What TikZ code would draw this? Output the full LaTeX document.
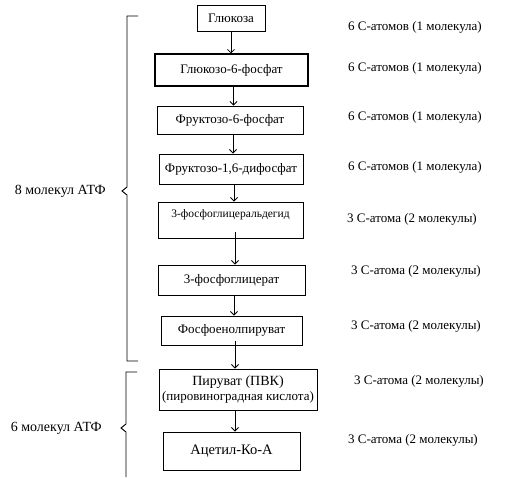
\documentclass[tikz,border=0pt]{standalone}
\usepackage{fontspec}
\setmainfont{Liberation Serif}
\usepackage{tikz}
\usetikzlibrary{positioning,arrows.meta,calc}
\tikzset{
  arr/.style={-{Straight Barb[length=3.5pt,width=7pt]}, line width=0.8pt},
  stage/.style={draw, line width=0.9pt, align=center, inner sep=1pt,
                font=\fontsize{13}{15}\selectfont},
  note/.style={anchor=west, inner sep=0pt, font=\fontsize{13}{15}\selectfont},
  brace/.style={line width=0.9pt},
}
\begin{document}
\begin{tikzpicture}[x=1pt,y=-1pt]
  \useasboundingbox (0,0) rectangle (511,477);

  % glycolysis chain
  \node[stage, minimum width=68, minimum height=26] (glc) at (231,18) {Глюкоза};
  \node[stage, line width=1.15pt, minimum width=153, minimum height=32] (g6p) at (231.5,70) {Глюкозо-6-фосфат};
  \node[stage, minimum width=146, minimum height=28] (f6p) at (230,120) {Фруктозо-6-фосфат};
  \node[stage, minimum width=144, minimum height=30] (f16) at (231,169) {Фруктозо-1,6-дифосфат};
  \node[stage, minimum width=145, minimum height=36, font=\fontsize{11.5}{14}\selectfont] (gap) at (230.5,220)
        {3-фосфоглицеральдегид\\[-1pt] \mbox{}};
  \node[stage, minimum width=147, minimum height=30] (pg3) at (231.5,280) {3-фосфоглицерат};
  \node[stage, minimum width=141, minimum height=29] (pep) at (231.5,330.5) {Фосфоенолпируват};
  \node[stage, minimum width=158, minimum height=41] (pyr) at (238,389.5)
        {{\fontsize{14}{15}\selectfont Пируват (ПВК)}\\(пировиноградная кислота)};
  \node[stage, minimum width=137, minimum height=38, font=\fontsize{14.5}{16}\selectfont] (acc) at (231.5,451) {Ацетил-Ко-А};

  \draw[arr] (glc.south) -- (glc.south |- g6p.north);
  \draw[arr] ([xshift=2pt]g6p.south) -- ([xshift=2pt]g6p.south |- f6p.north);
  \draw[arr] ([xshift=3pt]f6p.south) -- ([xshift=3pt]f6p.south |- f16.north);
  \draw[arr] ([xshift=3pt]f16.south) -- ([xshift=3pt]f16.south |- gap.north);
  \draw[arr] ([xshift=4.5pt,yshift=6pt]gap.south) -- ([xshift=4.5pt]gap.south |- pg3.north);
  \draw[arr] ([xshift=2.5pt]pg3.south) -- ([xshift=2.5pt]pg3.south |- pep.north);
  \draw[arr] ([xshift=3.5pt,yshift=4pt]pep.south) -- ([xshift=3.5pt]pep.south |- pyr.north);
  \draw[arr] ([xshift=-3pt]pyr.south) -- ([xshift=-3pt]pyr.south |- acc.north);

  % carbon atoms per stage
  \node[note] (n1) at (348,27)  {6 С-атомов (1 молекула)};
  \node[note] (n2) at (348,68)  {6 С-атомов (1 молекула)};
  \node[note] (n3) at (348,117) {6 С-атомов (1 молекула)};
  \node[note] (n4) at (348,167) {6 С-атомов (1 молекула)};
  \node[note] (n5) at (347,219) {3 С-атома (2 молекулы)};
  \node[note] (n6) at (351,271) {3 С-атома (2 молекулы)};
  \node[note] (n7) at (351,326) {3 С-атома (2 молекулы)};
  \node[note] (n8) at (354,381) {3 С-атома (2 молекулы)};
  \node[note] (n9) at (348,440) {3 С-атома (2 молекулы)};

  % ATP braces
  \draw[brace] (138,16) -- (127,16) -- (127,187) -- (122,191) -- (127,195) -- (127,361) -- (138,361);
  \node[note, anchor=east, font=\fontsize{14}{16}\selectfont] (atp8) at (106,191) {8 молекул АТФ};
  \draw[brace] (137,372) -- (126,372) -- (126,424) -- (121,428) -- (126,432) -- (126,477);
  \node[note, anchor=east, font=\fontsize{14}{16}\selectfont] (atp6) at (102,428) {6 молекул АТФ};
\end{tikzpicture}
\end{document}
